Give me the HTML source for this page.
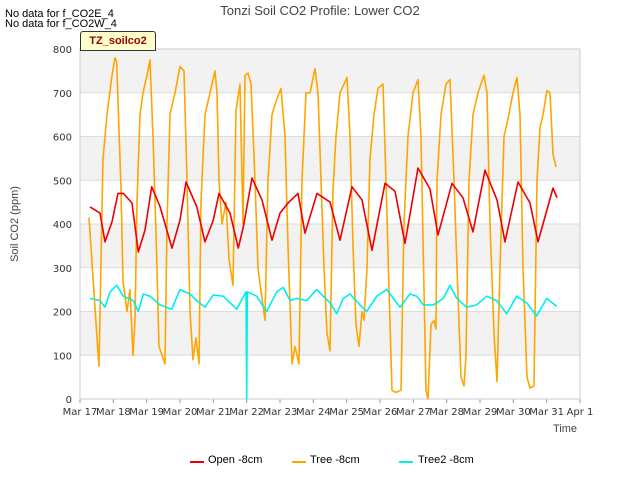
<!DOCTYPE html>
<html><head><meta charset="utf-8"><style>
body{margin:0;background:#fff;font-family:"Liberation Sans",sans-serif}
svg text{font-family:"DejaVu Sans","Liberation Sans",sans-serif}
</style></head><body>
<svg id="c" width="640" height="480" xmlns="http://www.w3.org/2000/svg"></svg>
<script>
const xTickLabels=["Mar 17","Mar 18","Mar 19","Mar 20","Mar 21","Mar 22","Mar 23","Mar 24","Mar 25","Mar 26","Mar 27","Mar 28","Mar 29","Mar 30","Mar 31","Apr 1"];
const yTicks=[0,100,200,300,400,500,600,700,800];
const openDays=[0.3,0.6,0.75,0.96,1.14,1.3,1.56,1.75,1.95,2.15,2.4,2.76,3.0,3.18,3.5,3.75,4.0,4.17,4.5,4.75,4.9,5.16,5.46,5.76,6.0,6.24,6.54,6.75,7.11,7.5,7.8,8.16,8.46,8.76,9.15,9.45,9.75,10.14,10.5,10.74,11.16,11.49,11.79,12.15,12.51,12.75,13.14,13.5,13.74,14.19,14.31];
const openVals=[439,425,359,405,470,470,448,336,386,485,440,345,409,496,440,359,409,470,425,345,393,505,455,363,425,448,470,379,470,450,363,485,455,340,493,475,356,528,480,375,493,460,382,523,455,359,496,448,359,482,460];
const treeDays=[0.27,0.5,0.57,0.69,0.81,0.96,1.05,1.1,1.23,1.29,1.41,1.5,1.59,1.65,1.71,1.8,1.89,2.01,2.1,2.19,2.28,2.37,2.46,2.55,2.61,2.7,2.85,3.0,3.12,3.21,3.3,3.39,3.48,3.57,3.63,3.75,3.9,4.05,4.11,4.17,4.26,4.38,4.47,4.59,4.68,4.8,4.89,4.95,5.04,5.13,5.25,5.34,5.46,5.55,5.64,5.76,5.88,6.03,6.15,6.24,6.36,6.45,6.57,6.66,6.78,6.9,7.05,7.14,7.23,7.32,7.41,7.5,7.59,7.68,7.8,8.01,8.1,8.19,8.28,8.37,8.46,8.52,8.61,8.7,8.82,8.94,9.09,9.18,9.27,9.36,9.48,9.63,9.72,9.84,9.99,10.14,10.23,10.32,10.38,10.44,10.53,10.62,10.68,10.71,10.83,10.98,11.1,11.22,11.31,11.43,11.52,11.58,11.67,11.79,11.94,12.12,12.21,12.3,12.42,12.51,12.6,12.72,12.84,12.99,13.11,13.2,13.29,13.41,13.5,13.62,13.71,13.8,13.89,14.01,14.1,14.19,14.28];
const treeVals=[415,150,75,550,650,740,780,770,480,270,200,250,100,180,450,650,700,740,775,600,380,120,100,80,400,650,700,760,750,500,200,90,140,80,450,650,700,750,700,500,400,450,320,260,660,720,400,740,745,720,500,300,230,180,500,650,680,710,600,350,80,120,80,500,700,700,755,700,500,300,150,110,480,600,700,735,600,350,170,120,200,180,300,550,650,710,720,500,250,20,15,20,400,600,700,730,600,250,20,0,170,180,160,500,650,720,730,500,300,50,30,100,500,650,700,740,700,400,150,40,300,600,640,700,735,650,300,50,25,30,500,620,650,705,700,560,530];
const tree2Days=[0.3,0.6,0.75,0.9,1.1,1.3,1.6,1.75,1.9,2.1,2.4,2.75,3.0,3.3,3.5,3.75,4.0,4.3,4.7,4.98,5.0,5.02,5.3,5.6,5.9,6.1,6.3,6.5,6.8,7.1,7.3,7.5,7.7,7.9,8.1,8.4,8.6,8.9,9.2,9.6,9.9,10.1,10.3,10.6,10.9,11.1,11.3,11.6,11.9,12.2,12.5,12.8,13.1,13.4,13.7,14.0,14.3];
const tree2Vals=[230,225,210,245,260,235,225,200,240,235,215,205,250,240,225,210,238,235,205,245,0,245,235,200,245,255,225,230,225,250,235,220,195,230,240,215,200,235,250,210,240,235,215,215,230,260,230,210,215,235,225,195,235,220,190,230,212];
const L=80,R=580,T=49,B=399;
const xs=d=>L+d*(R-L)/15, ys=v=>B-v*(B-T)/800;
const svg=document.getElementById('c');
function el(t,a,p){const e=document.createElementNS('http://www.w3.org/2000/svg',t);for(const k in a)e.setAttribute(k,a[k]);(p||svg).appendChild(e);return e;}
let bg=el('rect',{x:L,y:T,width:R-L,height:B-T,fill:'#fff'});


for(let i=0;i<8;i+=2){let r=el('rect',{x:L,y:ys(yTicks[i+2]),width:R-L,height:ys(yTicks[i+1])-ys(yTicks[i+2]),fill:'#f2f2f2'});

}
yTicks.forEach(v=>{let y=ys(v);el('line',{x1:L,x2:R,y1:y,y2:y,stroke:'#dcdcdc','stroke-width':1});
let t=el('text',{x:L-8,y:y+4,'text-anchor':'end','font-size':10,fill:'#333'});t.textContent=v;

});
xTickLabels.forEach((s,i)=>{let x=xs(i);el('line',{x1:x,x2:x,y1:B,y2:B+4,stroke:'#999'});
let t=el('text',{x:x,y:B+16,'text-anchor':'middle','font-size':10,fill:'#333'});t.textContent=s;

});
el('rect',{x:L,y:T,width:R-L,height:B-T,fill:'none',stroke:'#ccc'});
function series(days,vals,color,name){let d=days.map((x,i)=>(i?'L':'M')+xs(x).toFixed(1)+','+ys(vals[i]).toFixed(1)).join('');
let p=el('path',{d:d,fill:'none',stroke:color,'stroke-width':1.6,'stroke-linejoin':'round'});

}
series(treeDays,treeVals,'#ffa500','tree-8cm-line');
series(openDays,openVals,'#ee0000','open-8cm-line');
series(tree2Days,tree2Vals,'#00eeee','tree2-8cm-line');
</script>
<div style="position:absolute;left:0;top:0;width:640px;height:480px;pointer-events:none;font-size:11px;color:#000">
<div style="position:absolute;left:0;width:640px;top:3px;text-align:center;font-size:13px;color:#444">Tonzi Soil CO2 Profile: Lower CO2</div>
<div style="position:absolute;left:5px;top:8px">No data for f_CO2E_4</div>
<div style="position:absolute;left:5px;top:18px">No data for f_CO2W_4</div>
<div style="position:absolute;left:80px;top:31px;width:74px;height:18px;background:#ffffcc;border:1px solid #333;border-radius:3px 3px 0 0;color:#990000;font-weight:bold;font-size:11px;line-height:18px;text-align:center">TZ_soilco2</div>
<div style="position:absolute;left:-30px;top:218px;width:90px;text-align:center;transform:rotate(-90deg);color:#444">Soil CO2 (ppm)</div>
<div style="position:absolute;left:553px;top:423px;color:#444">Time</div>
<div style="position:absolute;top:454px;left:0;width:640px;height:14px">
<div style="position:absolute;left:190px"><span style="position:absolute;top:7px;width:14px;height:2px;background:#e00"></span><span style="position:absolute;left:18px;white-space:nowrap">Open -8cm</span></div>
<div style="position:absolute;left:292px"><span style="position:absolute;top:7px;width:14px;height:2px;background:#ffa500"></span><span style="position:absolute;left:18px;white-space:nowrap">Tree -8cm</span></div>
<div style="position:absolute;left:399px"><span style="position:absolute;top:7px;width:14px;height:2px;background:#0ee"></span><span style="position:absolute;left:19px;white-space:nowrap">Tree2 -8cm</span></div>
</div></div>
</body></html>
